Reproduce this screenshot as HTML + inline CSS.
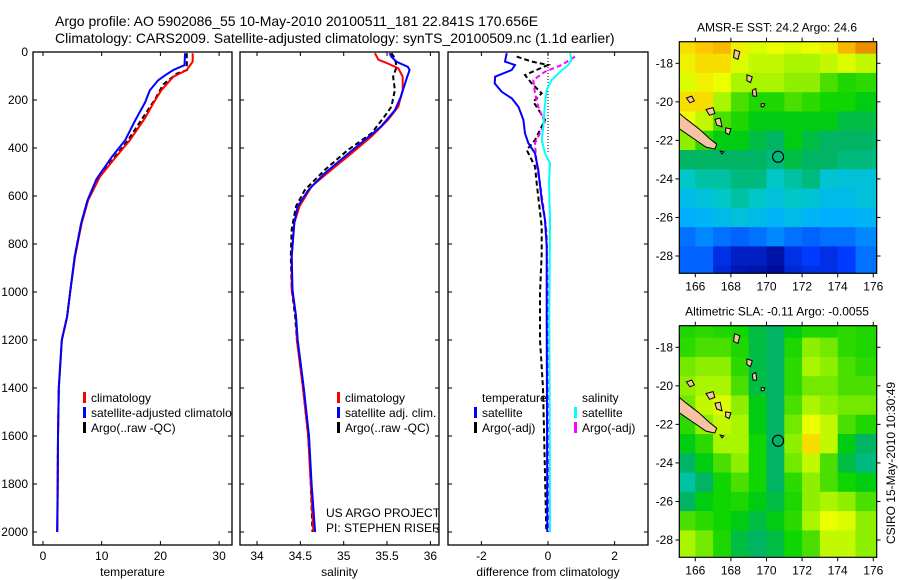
<!DOCTYPE html>
<html><head><meta charset="utf-8">
<style>
html,body{margin:0;padding:0;background:#fff;}
svg{display:block;font-family:"Liberation Sans",sans-serif;}
</style></head>
<body>
<svg id="fig" width="900" height="580" viewBox="0 0 900 580" xmlns="http://www.w3.org/2000/svg">
<rect x="0" y="0" width="900" height="580" fill="#fff"/>
<text x="55" y="26" font-size="14">Argo profile: AO 5902086_55 10-May-2010 20100511_181 22.841S 170.656E</text>
<text x="55" y="43" font-size="14">Climatology: CARS2009. Satellite-adjusted climatology: synTS_20100509.nc (1.1d earlier)</text>
<defs>
<clipPath id="c1"><rect x="33" y="52" width="199" height="493"/></clipPath>
<clipPath id="c2"><rect x="240" y="52" width="199" height="493"/></clipPath>
<clipPath id="c3"><rect x="448" y="52" width="200" height="493"/></clipPath>
<clipPath id="m1"><rect x="679.3" y="41.7" width="197.4" height="231.6"/></clipPath>
<clipPath id="m2"><rect x="679.3" y="325.7" width="197.4" height="231"/></clipPath>
</defs>
<g id="layer"></g>
<text font-size="12" transform="translate(895,463) rotate(-90)" text-anchor="middle">CSIRO 15-May-2010 10:30:49</text>
</svg>
<script>
// ---------- data ----------
const depthClim = [5,40,75,103,158,213,275,367,450,520,617,713,853,1005,1103,1200,1400,1600,1800,2000];
const tempClim  = [25.5,25.5,24.5,22.2,20.2,18.8,17.4,14.8,12.0,9.7,7.7,6.6,5.45,4.6,4.1,3.2,2.7,2.55,2.5,2.45];
const depthSat  = [5,55,75,97,118,160,210,285,367,438,530,617,713,853,1005,1103,1200,1400,1600,1800,2000];
const tempSat   = [24.2,24.1,22.2,20.8,19.6,18.2,17.4,15.7,14.0,11.7,9.1,7.6,6.5,5.4,4.6,4.1,3.2,2.7,2.55,2.5,2.4];
const depthArgoT= [5,76,90,135,197,270,367,450,530,617,713,853,1005,1103,1200,1400,1600,1800,1990];
const tempArgo  = [24.5,24.5,22.8,20.5,19.1,17.1,14.5,11.8,9.3,7.6,6.5,5.4,4.6,4.1,3.2,2.7,2.55,2.5,2.45];

const depthSalC = [5,32,48,68,103,158,228,283,352,422,490,560,643,712,850,990,1100,1200,1400,1600,1800,2000];
const salClim   = [35.36,35.40,35.51,35.63,35.68,35.68,35.63,35.51,35.32,35.09,34.86,34.63,34.49,34.43,34.40,34.40,34.45,34.46,34.53,34.59,34.62,34.65];
const depthSalS = [5,20,41,62,75,117,186,242,311,367,436,506,576,643,712,850,990,1100,1200,1400,1600,1800,2000];
const salSat    = [35.53,35.55,35.61,35.74,35.76,35.72,35.66,35.59,35.43,35.24,35.01,34.78,34.59,34.47,34.43,34.40,34.41,34.45,34.47,34.54,34.60,34.63,34.67];
const depthSalA = [5,26,62,103,158,228,269,339,408,492,576,643,740,850,990,1100,1200,1400,1600,1800,2000];
const salArgo   = [35.55,35.59,35.61,35.57,35.59,35.55,35.47,35.32,35.05,34.78,34.55,34.45,34.40,34.39,34.40,34.44,34.46,34.53,34.59,34.62,34.64];

const dDepthTS = [5,40,54,75,103,131,166,193,228,283,339,380,422,492,617,700,811,1100,1500,2000];
const dTempSat = [-1.24,-1.29,-0.99,-1.09,-1.59,-1.6,-1.39,-1.09,-0.89,-0.74,-0.69,-0.59,-0.39,-0.29,-0.19,-0.09,-0.04,-0.04,-0.03,-0.02];
const dDepthTA = [19,40,54,96,131,172,207,283,367,408,478,547,728,839,1005,1200,1400,1700,2000];
const dTempArgo= [-0.94,-0.49,0,-0.69,-0.49,-0.19,-0.44,-0.09,-0.39,-0.64,-0.39,-0.34,-0.19,-0.19,-0.24,-0.24,-0.15,-0.1,-0.05];
const dDepthSS = [5,33,54,82,117,158,228,311,367,422,464,540,700,1100,1500,2000];
const dSalSat  = [0.66,0.71,0.61,0.36,0.11,-0.04,-0.10,-0.14,-0.19,-0.09,0.06,0.03,0.06,0.04,0.05,0.06];
const dDepthSA = [19,54,82,117,172,228,297,380,478,547,644,756,1100,1500,2000];
const dSalArgo = [0.81,0.41,-0.09,-0.44,-0.39,-0.29,-0.09,-0.39,-0.34,-0.24,-0.14,-0.04,0,0.01,0.02];

const depthTicks = [0,200,400,600,800,1000,1200,1400,1600,1800,2000];
const tempTicks = [0,10,20,30];
const salTicks = [34,34.5,35,35.5,36];
const salTickLabels = ["34","34.5","35","35.5","36"];
const diffTicks = [-2,0,2];

const mapLats = [-17,-18,-19,-20,-21,-22,-23,-24,-25,-26,-27,-28,-29];
const mapLons = [165.5,166.5,167.5,168.5,169.5,170.5,171.5,172.5,173.5,174.5,175.5,176.5];
const sstGrid = [
[0.85,0.88,0.90,0.82,0.78,0.80,0.78,0.80,0.82,0.90,0.95,0.95],
[0.82,0.85,0.85,0.78,0.75,0.75,0.72,0.72,0.75,0.78,0.75,0.75],
[0.78,0.82,0.80,0.72,0.72,0.72,0.70,0.70,0.65,0.60,0.62,0.62],
[0.85,0.85,0.72,0.65,0.60,0.60,0.65,0.62,0.58,0.58,0.55,0.55],
[0.80,0.75,0.65,0.60,0.55,0.55,0.55,0.55,0.55,0.52,0.52,0.52],
[0.70,0.62,0.55,0.55,0.52,0.50,0.55,0.52,0.50,0.50,0.50,0.50],
[0.50,0.50,0.50,0.50,0.50,0.48,0.52,0.50,0.50,0.48,0.48,0.48],
[0.42,0.45,0.45,0.48,0.48,0.42,0.45,0.48,0.40,0.38,0.38,0.38],
[0.35,0.38,0.42,0.45,0.42,0.38,0.42,0.40,0.35,0.35,0.38,0.38],
[0.30,0.32,0.35,0.38,0.35,0.32,0.35,0.32,0.30,0.30,0.32,0.32],
[0.22,0.25,0.22,0.20,0.22,0.25,0.22,0.20,0.22,0.22,0.25,0.25],
[0.20,0.20,0.12,0.08,0.08,0.05,0.12,0.15,0.12,0.15,0.22,0.22],
[0.20,0.20,0.10,0.06,0.05,0.03,0.10,0.12,0.12,0.15,0.22,0.22]];
const slaGrid = [
[0.60,0.62,0.60,0.58,0.52,0.50,0.55,0.60,0.60,0.62,0.60,0.60],
[0.62,0.65,0.65,0.60,0.52,0.50,0.60,0.70,0.68,0.62,0.60,0.60],
[0.68,0.70,0.70,0.62,0.52,0.50,0.62,0.72,0.70,0.65,0.62,0.62],
[0.70,0.72,0.72,0.65,0.52,0.50,0.62,0.68,0.68,0.65,0.65,0.65],
[0.68,0.75,0.78,0.70,0.55,0.50,0.65,0.72,0.70,0.68,0.68,0.68],
[0.62,0.70,0.75,0.72,0.55,0.50,0.68,0.80,0.75,0.65,0.60,0.60],
[0.55,0.62,0.72,0.72,0.58,0.50,0.70,0.85,0.75,0.55,0.50,0.50],
[0.50,0.55,0.65,0.70,0.58,0.50,0.68,0.75,0.65,0.52,0.48,0.48],
[0.45,0.50,0.58,0.65,0.58,0.50,0.62,0.70,0.65,0.58,0.55,0.55],
[0.50,0.55,0.58,0.60,0.55,0.52,0.60,0.70,0.72,0.70,0.65,0.65],
[0.65,0.62,0.58,0.55,0.52,0.55,0.62,0.72,0.80,0.78,0.70,0.70],
[0.72,0.68,0.60,0.52,0.50,0.52,0.58,0.65,0.75,0.75,0.70,0.70],
[0.72,0.68,0.60,0.52,0.50,0.52,0.58,0.65,0.75,0.75,0.70,0.70]];
const latTicks = [-18,-20,-22,-24,-26,-28];
const lonTicks = [166,168,170,172,174,176];
const argoLon = 170.65, argoLat = -22.85;

// ---------- helpers ----------
const NS = "http://www.w3.org/2000/svg";
const layer = document.getElementById('layer');
function mk(tag, attrs, parent) {
  const e = document.createElementNS(NS, tag);
  for (const k in attrs) e.setAttribute(k, attrs[k]);
  (parent || layer).appendChild(e);
  return e;
}
const Y0 = 52, YS = 0.24;
const yD = d => Y0 + d * YS;

function panel(name, x0, w, xf, ticks, labels, xlabel, clip) {
  const g = mk('g', {});
  
  
  const fr = mk('rect', {x:x0, y:52, width:w, height:493, fill:'none', stroke:'#000', 'stroke-width':1.3}, g);
  
  
  ticks.forEach((t, i) => {
    const x = xf(t);
    mk('line', {x1:x, x2:x, y1:52, y2:56, stroke:'#000'}, g);
    mk('line', {x1:x, x2:x, y1:545, y2:541, stroke:'#000'}, g);
    const tl = mk('text', {x:x, y:560, 'font-size':12, 'text-anchor':'middle'}, g);
    tl.textContent = labels[i];
    
    
  });
  depthTicks.forEach(d => {
    mk('line', {x1:x0, x2:x0+4, y1:yD(d), y2:yD(d), stroke:'#000'}, g);
    mk('line', {x1:x0+w, x2:x0+w-4, y1:yD(d), y2:yD(d), stroke:'#000'}, g);
  });
  const xl = mk('text', {x:x0 + w/2, y:576, 'font-size':12, 'text-anchor':'middle'}, g);
  xl.textContent = xlabel;
  
  
  const cg = mk('g', {'clip-path':'url(#' + clip + ')'}, g);
  return cg;
}
function line(g, xs, ds, xf, color, dash, name, width) {
  const pts = xs.map((v, i) => xf(v).toFixed(1) + ',' + yD(ds[i]).toFixed(1)).join(' ');
  const p = mk('polyline', {points:pts, fill:'none', stroke:color, 'stroke-width':width || 2, 'stroke-dasharray':dash || 'none'}, g);
  
  
}
function legend(g, x, y, color, label) {
  if (color) mk('rect', {x:x, y:y-10, width:3, height:11, fill:color}, g);
  const t = mk('text', {x:x+8, y:y, 'font-size':12}, g);
  t.textContent = label;
  
  
}

depthTicks.forEach(d => {
  const t = mk('text', {x:28, y:yD(d)+4, 'font-size':12, 'text-anchor':'end'});
  t.textContent = d;
  
  
});

const xT = t => 43 + t * 5.87;
const g1 = panel('temperature-panel', 33, 199, xT, tempTicks, tempTicks.map(String), 'temperature', 'c1');
line(g1, tempArgo, depthArgoT, xT, '#000', '5,3', 'argo-temperature-line');
line(g1, tempClim, depthClim, xT, '#f00', null, 'climatology-temperature-line');
line(g1, tempSat, depthSat, xT, '#00f', null, 'satellite-temperature-line');
legend(g1, 83, 402, '#f00', 'climatology');
legend(g1, 83, 417, '#00f', 'satellite-adjusted climatology');
legend(g1, 83, 432, '#000', 'Argo(..raw -QC)');

const xS = s => 257 + (s - 34) * 86.7;
const g2 = panel('salinity-panel', 240, 199, xS, salTicks, salTickLabels, 'salinity', 'c2');
line(g2, salArgo, depthSalA, xS, '#000', '5,3', 'argo-salinity-line');
line(g2, salClim, depthSalC, xS, '#f00', null, 'climatology-salinity-line');
line(g2, salSat, depthSalS, xS, '#00f', null, 'satellite-salinity-line');
legend(g2, 337, 402, '#f00', 'climatology');
legend(g2, 337, 417, '#00f', 'satellite adj. clim.');
legend(g2, 337, 432, '#000', 'Argo(..raw -QC)');
legend(g2, 318, 517, null, 'US ARGO PROJECT');
legend(g2, 318, 532, null, 'PI: STEPHEN RISER');

const xDf = v => 548 + v * 33.3;
const g3 = panel('difference-panel', 448, 200, xDf, diffTicks, diffTicks.map(String), 'difference from climatology', 'c3');
mk('line', {x1:xDf(0), x2:xDf(0), y1:yD(0), y2:yD(420), stroke:'#000', 'stroke-dasharray':'1,2', 'stroke-width':1}, g3);
line(g3, dTempArgo, dDepthTA, xDf, '#000', '5,3', 'argo-temperature-diff-line');
line(g3, dSalArgo, dDepthSA, xDf, '#f0f', '5,3', 'argo-salinity-diff-line');
line(g3, dSalSat, dDepthSS, xDf, '#0ff', null, 'satellite-salinity-diff-line');
line(g3, dTempSat, dDepthTS, xDf, '#00f', null, 'satellite-temperature-diff-line');
legend(g3, 474, 402, null, 'temperature');
legend(g3, 474, 417, '#00f', 'satellite');
legend(g3, 474, 432, '#000', 'Argo(-adj)');
legend(g3, 574, 402, null, 'salinity');
legend(g3, 574, 417, '#0ff', 'satellite');
legend(g3, 574, 432, '#f0f', 'Argo(-adj)');

// ---------- maps ----------
const stops = [[0,[0,0,128]],[0.15,[0,60,255]],[0.3,[0,176,255]],[0.42,[0,200,200]],[0.5,[0,180,100]],[0.56,[0,210,0]],[0.64,[60,220,0]],[0.72,[170,245,0]],[0.8,[235,255,0]],[0.88,[255,200,0]],[1,[220,100,0]]];
function cmap(v) {
  for (let i = 1; i < stops.length; i++) {
    if (v <= stops[i][0]) {
      const a = stops[i-1], b = stops[i], f = (v - a[0]) / (b[0] - a[0]);
      const c = a[1].map((q, k) => Math.round(q + (b[1][k] - q) * f));
      return 'rgb(' + c.join(',') + ')';
    }
  }
  return 'rgb(220,100,0)';
}
const LX0 = 695.3, LXS = 17.8;
const xL = lon => LX0 + (lon - 166) * LXS;
const islands = [
  [[165.1,-20.6],[165.5,-20.9],[166.2,-21.4],[166.8,-21.9],[167.2,-22.2],[167.1,-22.45],[166.6,-22.35],[165.9,-21.9],[165.1,-21.4]],
  [[165.5,-19.8],[165.8,-19.7],[165.95,-19.95],[165.7,-20.05]],
  [[166.6,-20.4],[167.0,-20.3],[167.1,-20.6],[166.8,-20.7]],
  [[167.1,-20.9],[167.4,-20.85],[167.5,-21.3],[167.2,-21.2]],
  [[167.7,-21.35],[168.0,-21.4],[167.9,-21.7],[167.7,-21.6]],
  [[168.2,-17.3],[168.5,-17.4],[168.4,-17.8],[168.15,-17.7]],
  [[168.9,-18.6],[169.2,-18.7],[169.1,-19.0],[168.9,-18.9]],
  [[169.2,-19.4],[169.4,-19.3],[169.45,-19.7],[169.25,-19.7]],
  [[169.7,-20.1],[169.9,-20.1],[169.85,-20.25],[169.7,-20.25]],
  [[167.4,-22.55],[167.6,-22.6],[167.5,-22.7]]
];
function map(name, grid, top, lat18y, title, clip) {
  const yL = lat => lat18y + (-18 - lat) * 19.27;
  const g = mk('g', {});
  
  
  const cg = mk('g', {'clip-path':'url(#' + clip + ')'}, g);
  grid.forEach((row, r) => row.forEach((v, c) => {
    const cell = mk('rect', {x:xL(mapLons[c]-0.5), y:yL(mapLats[r]+0.5), width:LXS+0.6, height:19.9, fill:cmap(v)}, cg);
    
    
  }));
  islands.forEach(poly => {
    const p = mk('polygon', {points:poly.map(q => xL(q[0]).toFixed(1)+','+yL(q[1]).toFixed(1)).join(' '), fill:'#f5c3a3', stroke:'#000', 'stroke-width':1}, cg);
    
    
  });
  const ci = mk('circle', {cx:xL(argoLon), cy:yL(argoLat), r:5.5, fill:'none', stroke:'#000', 'stroke-width':1.2}, g);
  
  
  const bottom = top + 231.6;
  mk('rect', {x:679.3, y:top, width:197.4, height:231.6, fill:'none', stroke:'#000', 'stroke-width':1.2}, g);
  latTicks.forEach(l => {
    const y = yL(l);
    mk('line', {x1:679.3, x2:675.5, y1:y, y2:y, stroke:'#000'}, g);
    mk('line', {x1:876.7, x2:880.5, y1:y, y2:y, stroke:'#000'}, g);
    const t = mk('text', {x:673, y:y+4, 'font-size':12, 'text-anchor':'end'}, g);
    t.textContent = l;
    
    
  });
  lonTicks.forEach(l => {
    const x = xL(l);
    mk('line', {x1:x, x2:x, y1:top, y2:top-4, stroke:'#000'}, g);
    mk('line', {x1:x, x2:x, y1:bottom, y2:bottom+4, stroke:'#000'}, g);
    const t = mk('text', {x:x, y:bottom+17, 'font-size':12, 'text-anchor':'middle'}, g);
    t.textContent = l;
    
    
  });
  const tt = mk('text', {x:777, y:top-10, 'font-size':12, 'text-anchor':'middle'}, g);
  tt.textContent = title;
  
  
}
map('sst-map', sstGrid, 41.7, 63.3, 'AMSR-E SST: 24.2 Argo: 24.6', 'm1');
map('sla-map', slaGrid, 325.7, 347.3, 'Altimetric SLA: -0.11 Argo: -0.0055', 'm2');
</script>
</body></html>
